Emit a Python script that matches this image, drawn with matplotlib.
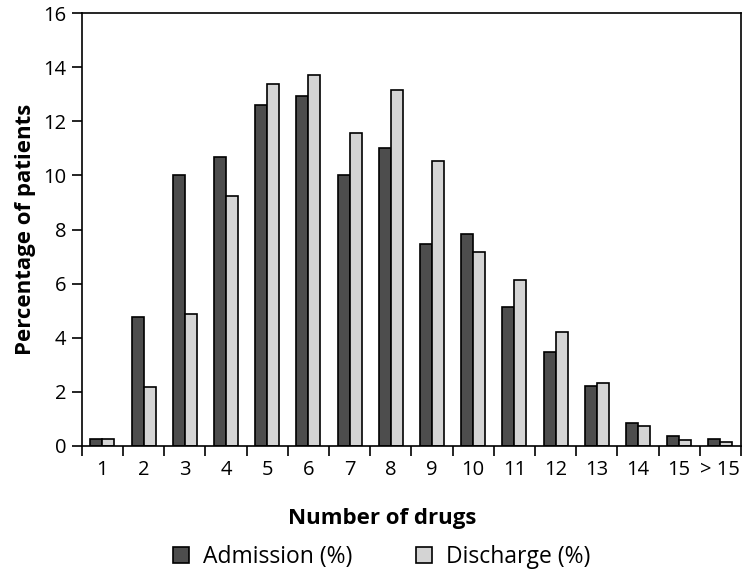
import matplotlib
matplotlib.use("Agg")
import matplotlib.pyplot as plt
import numpy as np

categories = ["1", "2", "3", "4", "5", "6", "7", "8", "9", "10", "11", "12", "13", "14", "15", "> 15"]
admission = [0.25, 4.76, 10.0, 10.68, 12.6, 12.94, 10.0, 11.03, 7.48, 7.83, 5.13, 3.47, 2.2, 0.85, 0.37, 0.25]
discharge = [0.25, 2.18, 4.86, 9.22, 13.36, 13.72, 11.56, 13.14, 10.54, 7.18, 6.14, 4.23, 2.31, 0.73, 0.24, 0.15]
y_ticks = [0, 2, 4, 6, 8, 10, 12, 14, 16]

plt.rcParams['font.family'] = ['Open Sans', 'DejaVu Sans']

fig = plt.figure(figsize=(7.5, 5.76), dpi=100)
ax = fig.add_axes([0.109, 0.2257, 0.879, 0.7517])

x = np.arange(len(categories))
w = 0.29
ax.bar(x - w / 2, admission, width=w, color="#4d4d4d", edgecolor="black", linewidth=1.2, label="Admission (%)")
ax.bar(x + w / 2, discharge, width=w, color="#d4d4d4", edgecolor="black", linewidth=1.2, label="Discharge (%)")

ax.set_xlim(-0.5, len(categories) - 0.5)
ax.set_ylim(0, 16)
ax.set_yticks(y_ticks)
ax.set_xticks(x)
ax.set_xticklabels(categories)
ax.set_xticks(np.arange(-0.5, len(categories), 1.0), minor=True)
ax.tick_params(axis="x", which="major", length=0, pad=10, labelsize=14.5)
ax.tick_params(axis="x", which="minor", length=7, width=1.2, direction="out")
ax.tick_params(axis="y", length=7, width=1.2, direction="out", labelsize=14.5, pad=4)
for s in ax.spines.values():
    s.set_linewidth(1.2)

ax.set_ylabel("Percentage of patients", fontsize=16, fontweight="bold", labelpad=5)
ax.set_xlabel("Number of drugs", fontsize=16, fontweight="bold", labelpad=20)
ax.xaxis.label.set_x(0.455)

ax.legend(loc="upper center", bbox_to_anchor=(0.455, -0.18), ncol=2, frameon=False,
          fontsize=16.5, handlelength=0.7, handleheight=0.7, columnspacing=2.8, handletextpad=0.6)

fig.savefig("out.png", dpi=100)
